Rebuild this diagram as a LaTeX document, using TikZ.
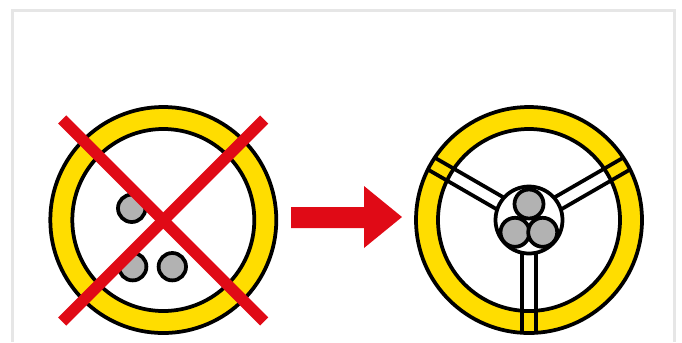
\documentclass[tikz,border=0pt]{standalone}
\usepackage{xcolor}
\usetikzlibrary{calc}
\definecolor{rimyellow}{HTML}{FFDD00}
\definecolor{crossred}{HTML}{E00A16}
\definecolor{knobgray}{HTML}{B2B2B2}
\definecolor{framegray}{HTML}{E6E6E6}
\begin{document}
\begin{tikzpicture}[x=0.02cm, y=-0.02cm,
    wheelline/.style={draw=black, line width=0.075cm},
    knob/.style={wheelline, fill=knobgray},
    crossbar/.style={draw=crossred, line width=0.23cm}]
  \useasboundingbox (0,0) rectangle (682,342);

  % Frame
  \draw[framegray, line width=0.05cm] (12.5,342) -- (12.5,10.5) -- (674.5,10.5) -- (674.5,342);

  % Left wheel
  \draw[wheelline, fill=rimyellow] (163.3,220) circle (113);
  \draw[wheelline, fill=white] (163.3,220) circle (91);
  \foreach \x/\y in {131.7/208.3, 132.7/266.7, 172.3/266.7} {
    \draw[knob] (\x,\y) circle (13.7);
  }
  \draw[crossbar] (62.2,119.5) -- (264.2,321.5);
  \draw[crossbar] (264.2,119.5) -- (62.2,321.5);

  % Arrow
  \fill[crossred] (291,207) -- (364,207) -- (364,186) -- (402,217) -- (364,248) -- (364,228) -- (291,228) -- cycle;

  % Right wheel
  \draw[wheelline, fill=rimyellow] (529,220) circle (113);
  \draw[wheelline, fill=white] (529,220) circle (91);
  \foreach \a in {0,120,240} {
    \begin{scope}[shift={(529,220)}, rotate=\a]
      \draw[wheelline] (-6.85,30) -- (-6.85,112.8);
      \draw[wheelline] (6.85,30) -- (6.85,112.8);
    \end{scope}
  }
  \draw[wheelline, fill=white] (529,220) circle (33.5);
  \foreach \x/\y in {529/204, 515/232.3, 542.7/232.3} {
    \draw[knob] (\x,\y) circle (14.5);
  }
\end{tikzpicture}
\end{document}
